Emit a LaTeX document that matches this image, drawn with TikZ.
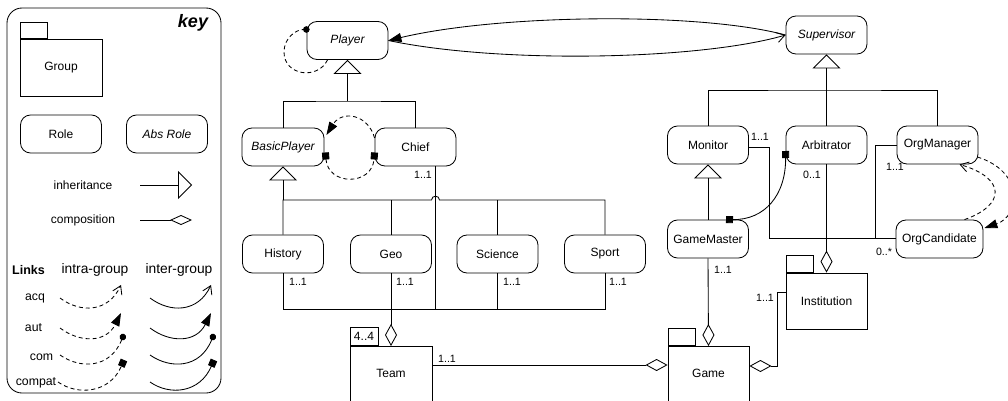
\documentclass[tikz,border=0pt]{standalone}
\usepackage{fontspec}
\setmainfont{Liberation Sans}
\usetikzlibrary{arrows.meta,calc}
\newcommand\mainsz{\fontsize{12pt}{14pt}\selectfont}
\newcommand\multsz{\fontsize{10.6pt}{12pt}\selectfont}
\tikzset{
 ln/.style={line width=0.85pt, line join=miter},
 role/.style={draw, line width=0.85pt, rounded corners=10pt, minimum width=81pt, minimum height=38pt, inner sep=0pt, font=\mainsz},
 absrole/.style={role, font=\mainsz\itshape},
 grp/.style={draw, line width=0.85pt, inner sep=0pt, font=\mainsz},
 txt/.style={inner sep=0pt, font=\mainsz},
 mult/.style={inner sep=0pt, font=\multsz},
 inh/.style={ln, -{Triangle[open, length=14pt, width=28pt]}},
 comp/.style={ln, -{Diamond[open, length=22pt, width=12pt]}},
 intra/.style={ln, dash pattern=on 4pt off 3pt},
 inter/.style={ln},
 acqtip/.style={-{Straight Barb[length=8pt, width=10pt]}},
 auttip/.style={-{Triangle[length=13pt, width=9pt]}},
 comtip/.style={-{Circle[length=6.5pt]}},
 compattip/.style={-{Square[length=7pt, width=7pt]}},
 compatboth/.style={{Square[length=7pt, width=7pt]}-{Square[length=7pt, width=7pt]}},
}
\begin{document}
\begin{tikzpicture}[x=1pt, y=-1pt]
\clip (0,0) rectangle (1008,401);

% ---------------- key panel ----------------
\node[draw, line width=0.85pt, rounded corners=15pt, minimum width=214pt, minimum height=385pt, inner sep=0pt] (keypanel) at (114,200.5) {};
\node[inner sep=0pt, font=\fontsize{18pt}{20pt}\selectfont\bfseries\itshape] (keytitle) at (193,23) {key};
\node[grp, minimum width=82pt, minimum height=57pt] (keygroup) at (61,67.5) {Group};
\node[grp, minimum width=27pt, minimum height=16pt, anchor=south west] (keygrouptab) at (keygroup.north west) {};
\node[role] (keyrole) at (61,134) {Role};
\node[absrole] (keyabsrole) at (167,134) {Abs Role};
\node[txt] (kinh) at (83,185) {inheritance};
\coordinate (kinha) at (140,185);
\coordinate (kinhb) at (192,185);
\draw[inh] (kinha) -- (kinhb);
\node[txt] (kcomp) at (83,220) {composition};
\coordinate (kcompa) at (140,220);
\coordinate (kcompb) at (192,220);
\draw[ln, -{Diamond[open, length=22pt, width=10pt]}] (kcompa) -- (kcompb);
\node[inner sep=0pt, font=\fontsize{12.5pt}{14pt}\selectfont\bfseries] (klinks) at (28.5,270) {Links};
\node[inner sep=0pt, font=\fontsize{13.8pt}{16pt}\selectfont] (kintra) at (95,270) {intra-group};
\node[inner sep=0pt, font=\fontsize{13.8pt}{16pt}\selectfont] (kinter) at (179,270) {inter-group};
\node[inner sep=0pt, font=\fontsize{12.3pt}{14pt}\selectfont] (kacq) at (35,298) {acq};
\node[inner sep=0pt, font=\fontsize{12.3pt}{14pt}\selectfont] (kaut) at (33.5,328) {aut};
\node[inner sep=0pt, font=\fontsize{12.3pt}{14pt}\selectfont] (kcom) at (41.5,357) {com};
\node[inner sep=0pt, font=\fontsize{12.3pt}{14pt}\selectfont] (kcompat) at (36,383) {compat};
% intra-group samples
\draw[intra, acqtip] (60,298) .. controls (80,313) and (108,313) .. (121,285);
\draw[intra, auttip] (60,328) .. controls (80,343) and (106,343) .. (121,313);
\draw[intra, comtip] (60,355) .. controls (80,369) and (110,369) .. (124,334);
\draw[intra, compattip] (58,382) .. controls (78,396) and (110,393) .. (124,360);
% inter-group samples
\draw[inter, acqtip] (150,298) .. controls (170,313) and (198,313) .. (211,285);
\draw[inter, auttip] (150,328) .. controls (170,343) and (196,343) .. (211,313);
\draw[inter, comtip] (150,355) .. controls (170,369) and (200,369) .. (214,334);
\draw[inter, compattip] (150,382) .. controls (170,396) and (200,393) .. (214,360);

% ---------------- roles ----------------
\node[absrole] (player) at (347.5,40.5) {Player};
\node[absrole] (supervisor) at (826.5,35) {Supervisor};
\node[absrole, minimum width=82pt] (basicplayer) at (283,147) {BasicPlayer};
\node[role] (chief) at (415.5,147) {Chief};
\node[role] (history) at (283,254) {History};
\node[role] (geo) at (391,254) {Geo};
\node[role] (science) at (497.5,254) {Science};
\node[role] (sport) at (605,254) {Sport};
\node[role] (monitor) at (708,145) {Monitor};
\node[role] (arbitrator) at (826.5,145) {Arbitrator};
\node[role] (orgmanager) at (937.5,145) {OrgManager};
\node[role] (gamemaster) at (708,239) {GameMaster};
\node[role, minimum width=87pt] (orgcandidate) at (939.5,239) {OrgCandidate};

% ---------------- groups ----------------
\node[grp, minimum width=82pt, minimum height=80pt, anchor=north] (team) at (391,346) {};
\node[txt] (teamlbl) at (391,373) {Team};
\node[grp, minimum width=28pt, minimum height=18pt, anchor=south west] (teamtab) at (team.north west) {4..4};
\node[grp, minimum width=81pt, minimum height=80pt, anchor=north] (game) at (708.5,346) {};
\node[txt] (gamelbl) at (708.5,373) {Game};
\node[grp, minimum width=27pt, minimum height=17pt, anchor=south west] (gametab) at (game.north west) {};
\node[grp, minimum width=81pt, minimum height=56pt] (institution) at (826.5,301) {Institution};
\node[grp, minimum width=27pt, minimum height=17pt, anchor=south west] (insttab) at (institution.north west) {};

% ---------------- inheritance ----------------
\coordinate (pj) at (347.5,101);
\draw[ln] (basicplayer.north) |- (pj) -| (chief.north);
\draw[inh] (pj) -- (player.south);

\coordinate (sj) at (826.5,90);
\draw[ln] (monitor.north) |- (sj) -| (orgmanager.north);
\draw[ln] (arbitrator.north) -- (sj);
\draw[inh] (sj) -- (supervisor.south);

\draw[inh] (gamemaster.north) -- (monitor.south);

\coordinate (bj) at (283,200);
\coordinate (hopa) at (431.5,200);
\coordinate (hopb) at (439.5,200);
\draw[inh] (bj) -- (basicplayer.south);
\draw[ln] (history.north) -- (bj) -- (hopa) .. controls (431.5,195) and (439.5,195) .. (hopb) -- (sport.north |- bj) -- (sport.north);
\draw[ln] (geo.north) -- (geo.north |- bj);
\draw[ln] (science.north) -- (science.north |- bj);

% ---------------- lower frame ----------------
\coordinate (bb) at (283,309);
\draw[ln] (history.south) -- (bb) -- (sport.south |- bb) -- (sport.south);
\draw[ln] (science.south) -- (science.south |- bb);
\coordinate (cb) at (435.5,309);
\draw[ln] (chief.south -| cb) -- (cb);

% ---------------- composition ----------------
\draw[comp] (geo.south) -- (team.north);
\coordinate (tgl) at (0,365);
\draw[comp] (team.east |- tgl) -- (game.west |- tgl);
\draw[comp] (gamemaster.south) -- (game.north);
\draw[comp] (arbitrator.south) -- (institution.north);
\coordinate (ic1) at (777,292);
\coordinate (ic2) at (777,366);
\draw[comp] (institution.west |- ic1) -- (ic1) -- (ic2) -- (game.east |- ic2);

% ---------------- other associations ----------------
\coordinate (m1) at (769,147);
\coordinate (m2) at (769,238);
\draw[ln] (monitor.east |- m1) -- (m1) -- (m2) -- (orgcandidate.west |- m2);
\coordinate (o1) at (875,145);
\draw[ln] (orgmanager.west) -- (o1) -- (o1 |- m2);

% ---------------- links ----------------
\draw[inter, auttip] (supervisor.west) .. controls (700,12) and (500,14) .. (player.east);
\draw[inter, acqtip] (player.east) .. controls (500,64) and (700,60) .. (supervisor.west);
\draw[intra, comtip] ($(player.south)+(-20,0)$) .. controls (318,80) and (284,76) .. (284,52) .. controls (284,38) and (296,29.5) .. ($(player.west)+(3,-11)$);
\draw[intra, auttip] ($(chief.west)+(0,-9)$) .. controls (368,114) and (342,110) .. ($(basicplayer.east)+(2,-12)$);
\draw[intra, compatboth] ($(basicplayer.east)+(1,5.5)$) .. controls (328,186) and (372,186) .. ($(chief.west)+(0,5.5)$);
\draw[inter, compatboth] ($(arbitrator.west)+(0,6)$) .. controls (786,195) and (765,220) .. ($(gamemaster.north)+(18,0)$);
\draw[intra, auttip] ($(orgmanager.east)+(-1,12)$) .. controls (1025,172) and (1020,216) .. ($(orgcandidate.east)+(1,-11)$);
\draw[intra, acqtip] ($(orgcandidate.north)+(25,0)$) .. controls (1006,205) and (1006,178) .. ($(orgmanager.south)+(22,0)$);

% ---------------- multiplicities ----------------
\node[mult] (mchief) at (423,175) {1..1};
\node[mult] (mhistory) at (298,282) {1..1};
\node[mult] (mgeo) at (405,282) {1..1};
\node[mult] (mscience) at (512,282) {1..1};
\node[mult] (msport) at (618,282) {1..1};
\node[mult] (mteam) at (447,359) {1..1};
\node[mult] (mgm) at (723,270) {1..1};
\node[mult] (mmonitor) at (760,137) {1..1};
\node[mult] (marb) at (812,175) {0..1};
\node[mult] (morgm) at (895,167) {1..1};
\node[mult] (morgc) at (884,252) {0..*};
\node[mult] (minst) at (765,298) {1..1};
\end{tikzpicture}
\end{document}
